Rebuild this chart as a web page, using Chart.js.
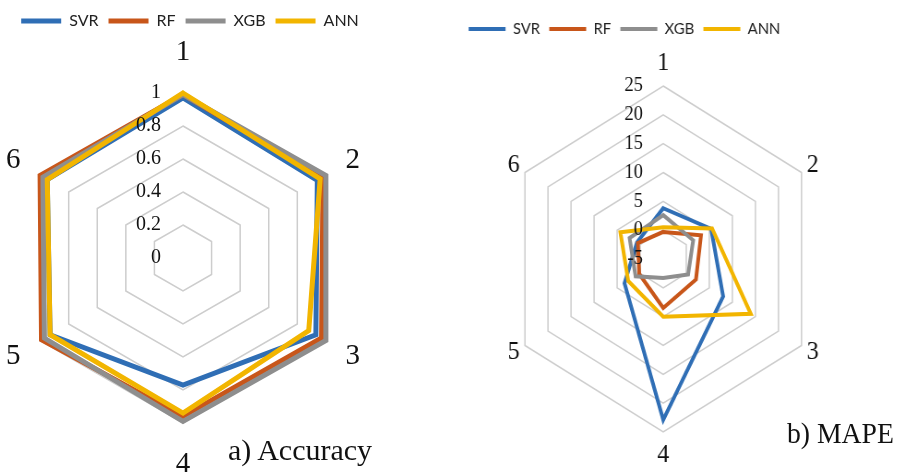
<!DOCTYPE html>
<html>
<head>
<meta charset="utf-8">
<script src="https://cdn.jsdelivr.net/npm/chart.js@4.4.1/dist/chart.umd.min.js"></script>
<style>
  html, body { margin: 0; padding: 0; background: #fff; overflow: hidden; }
  body { width: 898px; height: 473px; position: relative; }
  canvas { display: block; }
  #wrapA { position: absolute; left: 0; top: 0; width: 366px; height: 473px; }
  /* the MAPE panel is a little narrower than it is tall in the source */
  #wrapB { position: absolute; left: 450px; top: 0; width: 462px; height: 473px;
           transform: scaleX(0.923); transform-origin: 0 0; }
  .caption { position: absolute; font-family: 'Liberation Serif', 'Times New Roman', serif;
             font-size: 30px; line-height: 30px; color: #111; white-space: nowrap; }
</style>
</head>
<body>
<div id="wrapA"><canvas id="accuracyChart" width="366" height="473"></canvas></div>
<div class="caption" style="left:228px; top:435px;">a) Accuracy</div>
<div id="wrapB">
  <canvas id="mapeChart" width="462" height="473"></canvas>
  <div class="caption" style="left:365px; top:418px;">b) MAPE</div>
</div>

<script>
const categories = ['1', '2', '3', '4', '5', '6'];
const models = ['SVR', 'RF', 'XGB', 'ANN'];
const colors = ['#2f6eb5', '#c8561a', '#8e8e8e', '#f2b500'];

// a) Accuracy
const accuracySVR = [0.97, 0.94, 0.93, 0.77, 0.93, 0.95];
const accuracyRF  = [0.99, 0.98, 0.97, 0.96, 0.99, 1.0];
const accuracyXGB = [0.99, 1.0, 1.0, 0.99, 0.97, 0.98];
const accuracyANN = [1.0, 0.96, 0.88, 0.94, 0.93, 0.95];
const accuracyTicks = [0, 0.2, 0.4, 0.6, 0.8, 1];

// b) MAPE
const mapeSVR = [3.8, 5.4, 8.0, 22.9, 3.4, 0.7];
const mapeRF  = [-0.3, 3.2, 2.1, 3.5, 0.2, 0.5];
const mapeXGB = [2.6, 1.5, 0.4, -1.7, 1.0, 2.3];
const mapeANN = [0.5, 5.6, 14.0, 5.0, 2.6, 4.3];
const mapeTicks = [-5, 0, 5, 10, 15, 20, 25];

// pushes the plot down below the legend and nudges the legend sideways
const legendSpacing = {
  id: 'legendSpacing',
  beforeInit(chart) {
    const fit = chart.legend.fit;
    chart.legend.fit = function () {
      fit.call(this);
      this.height += chart.options.plugins.legendSpacing.gap;
    };
  },
  afterLayout(chart, args, opts) {
    chart.legend.left += opts.dx;
    chart.legend.right += opts.dx;
  }
};

// Excel style axis text: values left of the vertical axis, category numbers round the outside
const axisText = {
  id: 'axisText',
  afterDatasetsDraw(chart, args, opts) {
    const r = chart.scales.r;
    const ctx = chart.ctx;
    ctx.save();
    ctx.fillStyle = '#111';
    ctx.textBaseline = 'middle';
    ctx.font = opts.tickFont;
    ctx.textAlign = 'right';
    r.ticks.forEach(t => {
      const d = r.getDistanceFromCenterForValue(t.value);
      ctx.fillText(t.label, r.xCenter - opts.tickGap, r.yCenter - d);
    });
    ctx.font = opts.labelFont;
    ctx.textAlign = 'center';
    chart.data.labels.forEach((lab, i) => {
      const off = i % 3 === 0 ? opts.offV : opts.offD;
      const p = r.getPointPosition(i, r.drawingArea + off);
      ctx.fillText(lab, p.x, p.y);
    });
    ctx.restore();
  }
};

function makeDatasets(series, width) {
  return series.map((data, i) => ({
    label: models[i],
    data: data,
    borderColor: colors[i],
    backgroundColor: colors[i],
    borderWidth: width,
    borderCapStyle: 'round',
    fill: false,
    pointRadius: 0,
    pointHoverRadius: 0,
    order: series.length - i   // ANN ends up on top, like Excel
  }));
}

function radarChart(id, series, ticks, o) {
  return new Chart(document.getElementById(id), {
    type: 'radar',
    data: { labels: categories, datasets: makeDatasets(series, o.lineWidth) },
    options: {
      responsive: false,
      animation: false,
      layout: { padding: { top: o.top, bottom: o.bottom, left: 0, right: 0 } },
      elements: { line: { tension: 0 } },
      scales: {
        r: {
          min: ticks[0],
          max: ticks[ticks.length - 1],
          ticks: {
            stepSize: ticks[1] - ticks[0],
            display: false,
            callback: v => String(+v.toFixed(2))
          },
          pointLabels: { display: false },
          angleLines: { display: false },
          grid: { color: '#cdcdcd', lineWidth: 1.5 }
        }
      },
      plugins: {
        legend: {
          position: 'top',
          labels: {
            usePointStyle: true,
            pointStyle: 'line',
            pointStyleWidth: 40,
            padding: 10,
            color: '#222',
            font: { family: 'Lato', size: 16 },
            sort: (a, b) => a.datasetIndex - b.datasetIndex
          }
        },
        tooltip: { enabled: false },
        legendSpacing: { gap: o.gap, dx: o.dx },
        axisText: {
          tickFont: o.tickSize + 'px "Liberation Serif"',
          labelFont: o.labelSize + 'px "Liberation Serif"',
          tickGap: 22,
          offV: o.offV,
          offD: o.offD
        }
      }
    },
    plugins: [legendSpacing, axisText]
  });
}

radarChart('accuracyChart', [accuracySVR, accuracyRF, accuracyXGB, accuracyANN], accuracyTicks,
  { lineWidth: 5, top: 3, bottom: 50, gap: 54, dx: 7, tickSize: 20, labelSize: 29, offV: 41, offD: 31 });

radarChart('mapeChart', [mapeSVR, mapeRF, mapeXGB, mapeANN], mapeTicks,
  { lineWidth: 4, top: 11, bottom: 41, gap: 39, dx: -42, tickSize: 20, labelSize: 26, offV: 23, offD: 14 });
</script>
</body>
</html>
